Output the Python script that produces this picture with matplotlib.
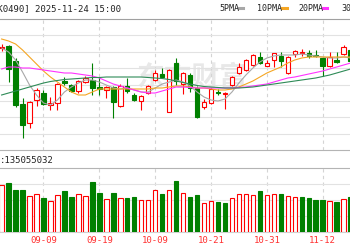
import matplotlib
matplotlib.use("Agg")
import matplotlib.pyplot as plt
from matplotlib.lines import Line2D

W, H = 350, 250
RED = '#ff0000'
GREEN = '#008000'
MONO = 'DejaVu Sans Mono'

# daily candles, oldest first (chart units, axis has no labels in the crop)
opens = [102, 104, 89, 46, 27, 50, 57, 45, 47, 69, 65, 59, 68, 70, 63.3, 60.5, 63, 44, 64, 55,
         49.5, 57, 70, 76.5, 38.3, 87, 66, 75, 61.7, 43.5, 47, 58.5, 56, 65, 77, 80.5, 85, 93, 84.5, 90,
         94, 77, 96, 97.5, 97, 95.5, 92, 84, 90, 96, 100]
highs = [106, 105, 92, 52, 49, 62, 60, 53, 67, 73, 66, 70, 74, 87, 73, 64, 64, 66, 72, 57,
         55, 65, 80, 82, 81, 92, 78, 77, 64, 51, 62, 61, 58, 74, 87, 91, 96, 98, 90, 97,
         98, 94, 100, 101.5, 100, 100, 93, 98, 98, 105, 102]
lows = [99, 68, 43, 12, 22, 44, 45, 40, 40, 65, 58, 57, 67, 55, 55, 52.5, 32, 43, 57, 49,
        40, 56, 69, 73, 38, 65, 56, 58, 32, 41, 46, 55, 41, 64, 76, 79, 84, 86, 84, 83,
        83, 76, 93, 94, 92, 93, 74, 83, 87, 95, 87]
closes = [103, 81, 45, 25, 48, 60, 46, 47, 66, 67.5, 59, 69, 72, 62, 61, 63, 48.3, 64, 59, 50,
          54, 64, 77.5, 73.5, 80, 69, 77, 62, 33, 48, 61, 57.5, 57, 73, 83.5, 90, 95, 87, 87, 96.7,
          89, 93, 99.5, 98, 94, 94.5, 84, 93, 88, 103, 89]

# volume in millions of shares and bar colour (1 = red)
vol_m = [211, 222, 189, 189, 162, 170, 152, 141, 165, 185, 156, 170, 162, 226, 177, 147, 177, 152, 152, 156,
         144, 144, 189, 171, 189, 230, 174, 156, 167, 132, 140, 136, 132, 152, 171, 171, 165, 185, 165, 170,
         171, 162, 159, 156, 152, 144, 144, 140, 136, 147, 156]
vol_up = [1, 0, 0, 0, 1, 1, 0, 1, 1, 0, 0, 1, 1, 0, 0, 1, 0, 1, 0, 0,
          1, 1, 1, 0, 1, 0, 1, 0, 0, 1, 1, 0, 0, 1, 1, 1, 1, 0, 1, 1,
          0, 1, 1, 0, 0, 0, 0, 1, 0, 1, 0]

# moving averages
ma5 = [102, 98, 90, 78, 65, 55, 47, 45, 50, 58, 63, 67, 70, 70, 68, 65, 62, 61, 62, 60,
       58, 58, 62, 66, 68, 70, 68, 64, 58, 53, 50, 49, 51, 58, 67, 75, 82, 88, 92, 94,
       95, 95, 95, 96, 95, 94, 93, 92, 92, 93, 92]
ma10 = [111, 109, 106, 100, 93, 86, 79, 73, 68, 63, 58, 55, 55, 58, 61, 61, 61, 61, 61, 61,
        61, 61, 62, 62, 63, 64, 64, 63, 62, 62, 61, 60, 60, 61, 63, 66, 69, 73, 77, 80,
        83, 87, 90, 92, 93, 93, 93, 93, 93, 93, 93]
ma20 = [81, 83, 83, 82, 82, 81, 80, 79, 78, 77, 77, 76, 75, 74, 72, 69, 66, 64, 62, 60,
        58, 57, 57, 59, 61, 63, 63, 62.5, 62, 62, 62, 62, 62, 62, 62.5, 63, 64, 65, 66, 68,
        70, 72, 73, 74.5, 76, 77.5, 79, 81, 83, 85, 87]
ma30 = [55, 57, 59, 61, 63, 65, 67, 68.5, 69.5, 70.5, 71, 71.5, 72, 72.5, 72.5, 73, 73, 73, 73, 73,
        73, 72.5, 72, 71.5, 70.5, 69, 67.5, 66, 64.5, 63.5, 63, 62.5, 62, 62, 62, 62.5, 63, 64, 65, 66,
        67, 68, 69, 70, 71, 72, 73.5, 75, 77, 79, 81]

tick_pos = [-2, 6, 14, 22, 30, 38, 46]
tick_labels = ['08-28', '09-09', '09-19', '10-09', '10-21', '10-31', '11-12']


def fx(px):
    return px / W


def fy(py):
    return 1 - py / H


fig = plt.figure(figsize=(W / 100, H / 100), dpi=100)
ax = fig.add_axes([0, fy(150), 1, (150 - 19) / H])
axv = fig.add_axes([0, fy(232), 1, (232 - 168) / H])

xlim = (-0.23, 49.91)
idx = list(range(len(opens)))

# watermark
ax.text(fx(192), fy(78), '东方财富', transform=fig.transFigure,
        family=['Noto Sans CJK SC', 'DejaVu Sans'], fontsize=20, weight='bold',
        color='#e8e8e8', ha='center', va='center', zorder=1)

# price panel
for i in idx:
    o, hi, lo, c = opens[i], highs[i], lows[i], closes[i]
    up = c >= o
    col = RED if up else GREEN
    ax.vlines(i, lo, hi, color=col, lw=0.8, zorder=3)
    ax.bar(i, max(abs(c - o), 0.4), bottom=min(o, c), width=0.64,
           facecolor='white' if up else GREEN, edgecolor=col, lw=0.8, zorder=4)

ax.plot(idx, ma5, color='#a8a8a8', lw=0.8, zorder=5)
ax.plot(idx, ma10, color='#f5a623', lw=0.8, zorder=5)
ax.plot(idx, ma20, color='#ff33ff', lw=0.8, zorder=5)
ax.plot(idx, ma30, color='#2e8b57', lw=0.8, zorder=5)

ax.set_yticks([131 / 8 * k for k in range(1, 8)])
ax.set_xticks(tick_pos)
ax.set_xlim(*xlim)
ax.set_ylim(0, 131)
ax.grid(axis='y', color='#e2e2e2', lw=0.8)
ax.tick_params(length=0, labelbottom=False, labelleft=False)
for p in tick_pos:
    ax.axvline(p, color='#d4d4d4', lw=0.8, ls=(0, (3, 3)), zorder=1)
for s in ['left', 'right']:
    ax.spines[s].set_visible(False)
ax.spines['top'].set_color('#a0a0a0')
ax.spines['bottom'].set_color('#b4b4b4')

# volume panel
for i in idx:
    col = RED if vol_up[i] else GREEN
    axv.bar(i, vol_m[i], width=0.64, facecolor='white' if vol_up[i] else GREEN,
            edgecolor=col, lw=0.8, zorder=3)
axv.set_yticks([72, 144, 216])
axv.set_xticks(tick_pos)
axv.set_xticklabels(tick_labels, color='#ff3030', family=MONO, fontsize=6.5)
axv.set_xlim(*xlim)
axv.set_ylim(0, 288)
axv.grid(axis='y', color='#e2e2e2', lw=0.8)
for p in tick_pos:
    axv.axvline(p, color='#d4d4d4', lw=0.8, ls=(0, (3, 3)), zorder=1)
axv.tick_params(length=0, labelleft=False, pad=3)
for s in ['left', 'right']:
    axv.spines[s].set_visible(False)
axv.spines['top'].set_color('#b4b4b4')
axv.spines['bottom'].set_color('#d0d0d0')

# header texts
fig.text(fx(121), fy(11.5), 'BK0490] 2025-11-24 15:00', ha='right', va='baseline',
         family=MONO, fontsize=6.5, color='#222222')
fig.text(fx(0), fy(163), ':135055032', ha='left', va='baseline',
         family=MONO, fontsize=6.5, color='#222222')

legend = [('5PMA', 219, '#a8a8a8'), ('10PMA', 257.5, '#f5a623'),
          ('20PMA', 298, '#ff33ff'), ('30PMA', 341.5, '#2e8b57')]
for name, x0, col in legend:
    fig.text(fx(x0), fy(11), name, ha='left', va='baseline', family=MONO,
             fontsize=6, color='#222222')
    xe = x0 + 4.6 * len(name) + 1.5
    fig.add_artist(Line2D([fx(xe), fx(xe + 4.5)], [fy(7.5), fy(7.5)], color=col, lw=2.2))

fig.savefig('out.png', dpi=100)
